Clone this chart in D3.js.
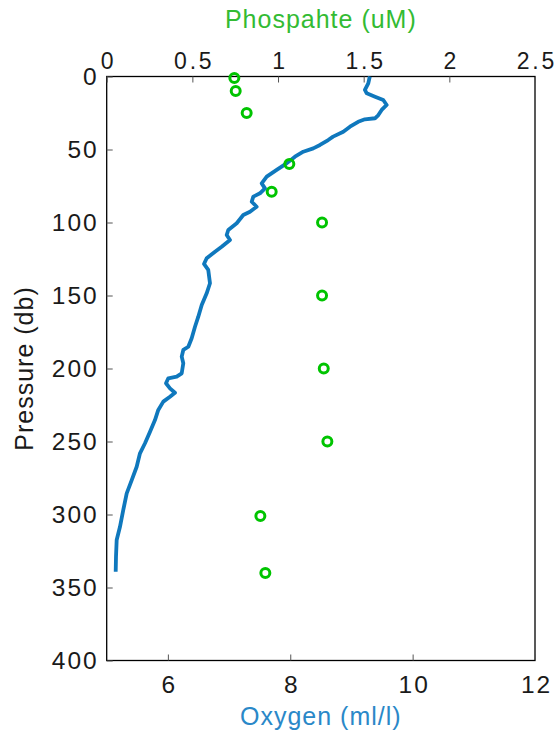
<!DOCTYPE html>
<html>
<head>
<meta charset="utf-8">
<script src="https://cdn.jsdelivr.net/npm/d3@7"></script>
<style>
  html, body { margin: 0; padding: 0; background: #fff; }
  svg { display: block; font-family: "Liberation Sans", Arial, sans-serif; }
</style>
</head>
<body>
<svg id="chart" width="560" height="736"></svg>
<script>
// CTD oxygen profile (line) and bottle phosphate samples (circles)
const oxyPressure = [0, 4.7, 9.2, 11.5, 13.8, 16.1, 19.5, 22.9, 26.4, 28.6, 29.3, 31.0, 34.4, 37.8, 41.2, 43.5,
  46.9, 49.2, 51.5, 54.9, 59.5, 64.0, 68.6, 73.2, 76.6, 80.0, 82.3, 85.8, 89.2, 92.6, 94.9, 100.5,
  105.1, 108.6, 112.0, 116.6, 120.0, 124.5, 128.4, 132.5, 141.6, 148.5, 156.5, 164.5, 171.4, 179.3,
  185.1, 187.3, 191.9, 196.4, 203.3, 205.6, 206.7, 210.1, 213.6, 216.6, 219.3, 222.7, 228.4, 235.3,
  243.3, 251.2, 258.1, 267.3, 276.4, 285.5, 296.9, 308.4, 317.5, 328.9, 339.2];
const oxygen = [9.30, 9.275, 9.22, 9.25, 9.385, 9.52, 9.576, 9.494, 9.44, 9.385, 9.22, 9.11, 8.976, 8.867, 8.70, 8.62,
  8.486, 8.376, 8.213, 8.077, 7.94, 7.778, 7.615, 7.533, 7.587, 7.505, 7.396, 7.37, 7.451, 7.342, 7.232, 7.125,
  6.987, 6.961, 7.015, 6.879, 6.77, 6.634, 6.59, 6.66, 6.688, 6.634, 6.553, 6.497, 6.443, 6.389,
  6.334, 6.252, 6.226, 6.252, 6.226, 6.144, 6.007, 5.969, 6.034, 6.116, 6.034, 5.925, 5.843, 5.789,
  5.708, 5.626, 5.544, 5.49, 5.409, 5.327, 5.271, 5.217, 5.163, 5.152, 5.147];

const phosPressure = [1, 10, 25, 60, 79, 100, 150, 200, 250, 301, 340];
const phosphate = [0.745, 0.753, 0.817, 1.066, 0.963, 1.257, 1.257, 1.267, 1.288, 0.897, 0.926];

const oxygenTicks = [6, 8, 10, 12];
const phosphateTicks = [0, 0.5, 1, 1.5, 2, 2.5];
const pressureTicks = [0, 50, 100, 150, 200, 250, 300, 350, 400];

const W = 560, H = 736;
const m = { left: 106.7, top: 76.5, right: 25, bottom: 75.5 };
const iw = W - m.left - m.right, ih = H - m.top - m.bottom;

const blue = "#0f78bd";
const green = "#00c400";
const ink = "#1a1a1a";

const svg = d3.select("#chart");
const g = svg.append("g").attr("transform", `translate(${m.left},${m.top})`);

const xO = d3.scaleLinear().domain([5, 12]).range([0, iw]);
const xP = d3.scaleLinear().domain([0, 2.5]).range([0, iw]);
const y = d3.scaleLinear().domain([0, 400]).range([0, ih]);

// frame
g.append("rect").attr("x", 0).attr("y", 0).attr("width", iw).attr("height", ih)
  .attr("fill", "none").attr("stroke", "#000").attr("stroke-width", 1.3);

function styleAxis(sel, size, spacing) {
  sel.select(".domain").remove();
  sel.selectAll(".tick line").attr("stroke", "#555").attr("stroke-width", 1);
  sel.selectAll(".tick text").attr("fill", ink).attr("font-size", size)
    .attr("letter-spacing", spacing)
    .attr("font-family", "'Liberation Sans', Arial, sans-serif");
}

// inward ticks, labels outside
const axB = g.append("g").attr("transform", `translate(0,${ih})`)
  .call(d3.axisBottom(xO).tickValues(oxygenTicks).tickFormat(d3.format("d"))
    .tickSizeInner(-6).tickSizeOuter(0).tickPadding(15));
styleAxis(axB, 24.5, 2);
axB.selectAll(".tick text").attr("dx", 1);

const axT = g.append("g")
  .call(d3.axisTop(xP).tickValues(phosphateTicks).tickFormat(d3.format(""))
    .tickSizeInner(-6).tickSizeOuter(0).tickPadding(8));
styleAxis(axT, 23, 2.8);
axT.selectAll(".tick text").attr("dx", 1.4);

const axL = g.append("g")
  .call(d3.axisLeft(y).tickValues(pressureTicks).tickFormat(d3.format("d"))
    .tickSizeInner(-6).tickSizeOuter(0).tickPadding(8));
styleAxis(axL, 24.5, 2);

// oxygen profile
const line = d3.line().x((d, i) => xO(oxygen[i])).y((d, i) => y(oxyPressure[i]));
g.append("path").datum(oxyPressure).attr("d", line)
  .attr("fill", "none").attr("stroke", blue).attr("stroke-width", 3.8)
  .attr("stroke-linejoin", "round").attr("stroke-linecap", "butt");

// phosphate samples
g.selectAll("circle.phos").data(phosphate).join("circle").attr("class", "phos")
  .attr("cx", d => xP(d)).attr("cy", (d, i) => y(phosPressure[i])).attr("r", 4.5)
  .attr("fill", "none").attr("stroke", green).attr("stroke-width", 3);

// axis titles
svg.append("text").attr("x", m.left + iw / 2).attr("y", 28).attr("text-anchor", "middle")
  .attr("font-size", 25).attr("letter-spacing", 1).attr("fill", "#33bb33").text("Phospahte (uM)");
svg.append("text").attr("x", m.left + iw / 2).attr("y", 725).attr("text-anchor", "middle")
  .attr("font-size", 25).attr("letter-spacing", 1).attr("fill", "#2a88c8").text("Oxygen (ml/l)");
svg.append("text").attr("transform", `translate(33,${m.top + ih / 2}) rotate(-90)`)
  .attr("text-anchor", "middle").attr("font-size", 25).attr("letter-spacing", 1)
  .attr("fill", ink).text("Pressure (db)");
</script>
</body>
</html>
